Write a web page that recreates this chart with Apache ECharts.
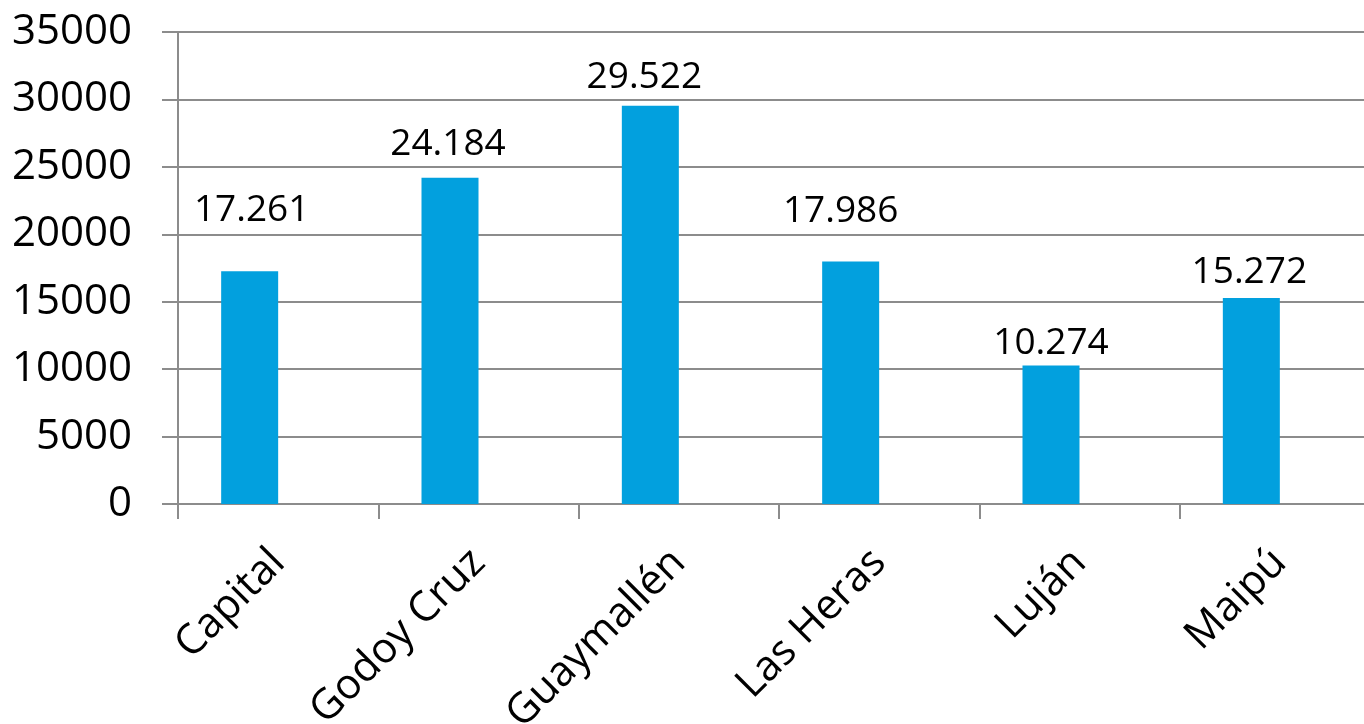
<!DOCTYPE html>
<html>
<head>
<meta charset="utf-8">
<script src="https://cdn.jsdelivr.net/npm/echarts@6/dist/echarts.min.js"></script>
<style>
html,body{margin:0;padding:0;background:#fff;}
#chart{width:1364px;height:724px;}
</style>
</head>
<body>
<div id="chart"></div>
<script>
const categories = ['Capital', 'Godoy Cruz', 'Guaymallén', 'Las Heras', 'Luján', 'Maipú'];
const values = [17261, 24184, 29522, 17986, 10274, 15272];
const yTicks = [0, 5000, 10000, 15000, 20000, 25000, 30000, 35000];

// manual label placement (as in the original)
const labelOffsets = [[2, -36], [-2, -9], [-6, -4], [-10, -25], [0, 3], [-2, -1]];

function fmt(v) {
  return String(v).replace(/\B(?=(\d{3})+(?!\d))/g, '.');
}

const chart = echarts.init(document.getElementById('chart'), null, {renderer: 'canvas'});
const FONT = 'Open Sans';
chart.setOption({
  animation: false,
  textStyle: {fontFamily: FONT},
  grid: {left: 178, width: 1202, top: 32, height: 472, containLabel: false, outerBoundsMode: 'none'},
  xAxis: {
    type: 'category',
    data: categories,
    axisLine: {lineStyle: {color: '#8c8c8c', width: 2}},
    axisTick: {show: true, length: 15, alignWithLabel: false, lineStyle: {color: '#8c8c8c', width: 2}},
    axisLabel: {rotate: 45, margin: 52, fontSize: 42, color: '#000', fontFamily: FONT, interval: 0}
  },
  yAxis: {
    type: 'value',
    min: yTicks[0],
    max: yTicks[yTicks.length - 1],
    interval: 5000,
    axisLine: {show: true, lineStyle: {color: '#8c8c8c', width: 2}},
    axisTick: {show: true, length: 16, lineStyle: {color: '#8c8c8c', width: 2}},
    splitLine: {lineStyle: {color: '#8c8c8c', width: 2}},
    axisLabel: {margin: 46, fontSize: 42, color: '#000', fontFamily: FONT, formatter: v => String(v)}
  },
  series: [
    {
      type: 'bar',
      data: values.map((v, i) => ({
        value: v,
        label: {offset: labelOffsets[i]}
      })),
      barWidth: 57,
      barGap: '0%',
      itemStyle: {color: '#02a0de'},
      label: {
        show: true,
        position: 'top',
        distance: 6,
        fontSize: 37,
        color: '#000',
        fontFamily: FONT,
        formatter: p => fmt(p.value)
      }
    },
    {
      type: 'bar',
      data: values.map(() => null),
      barWidth: 57,
      barGap: '0%',
      silent: true
    }
  ]
});
</script>
</body>
</html>
